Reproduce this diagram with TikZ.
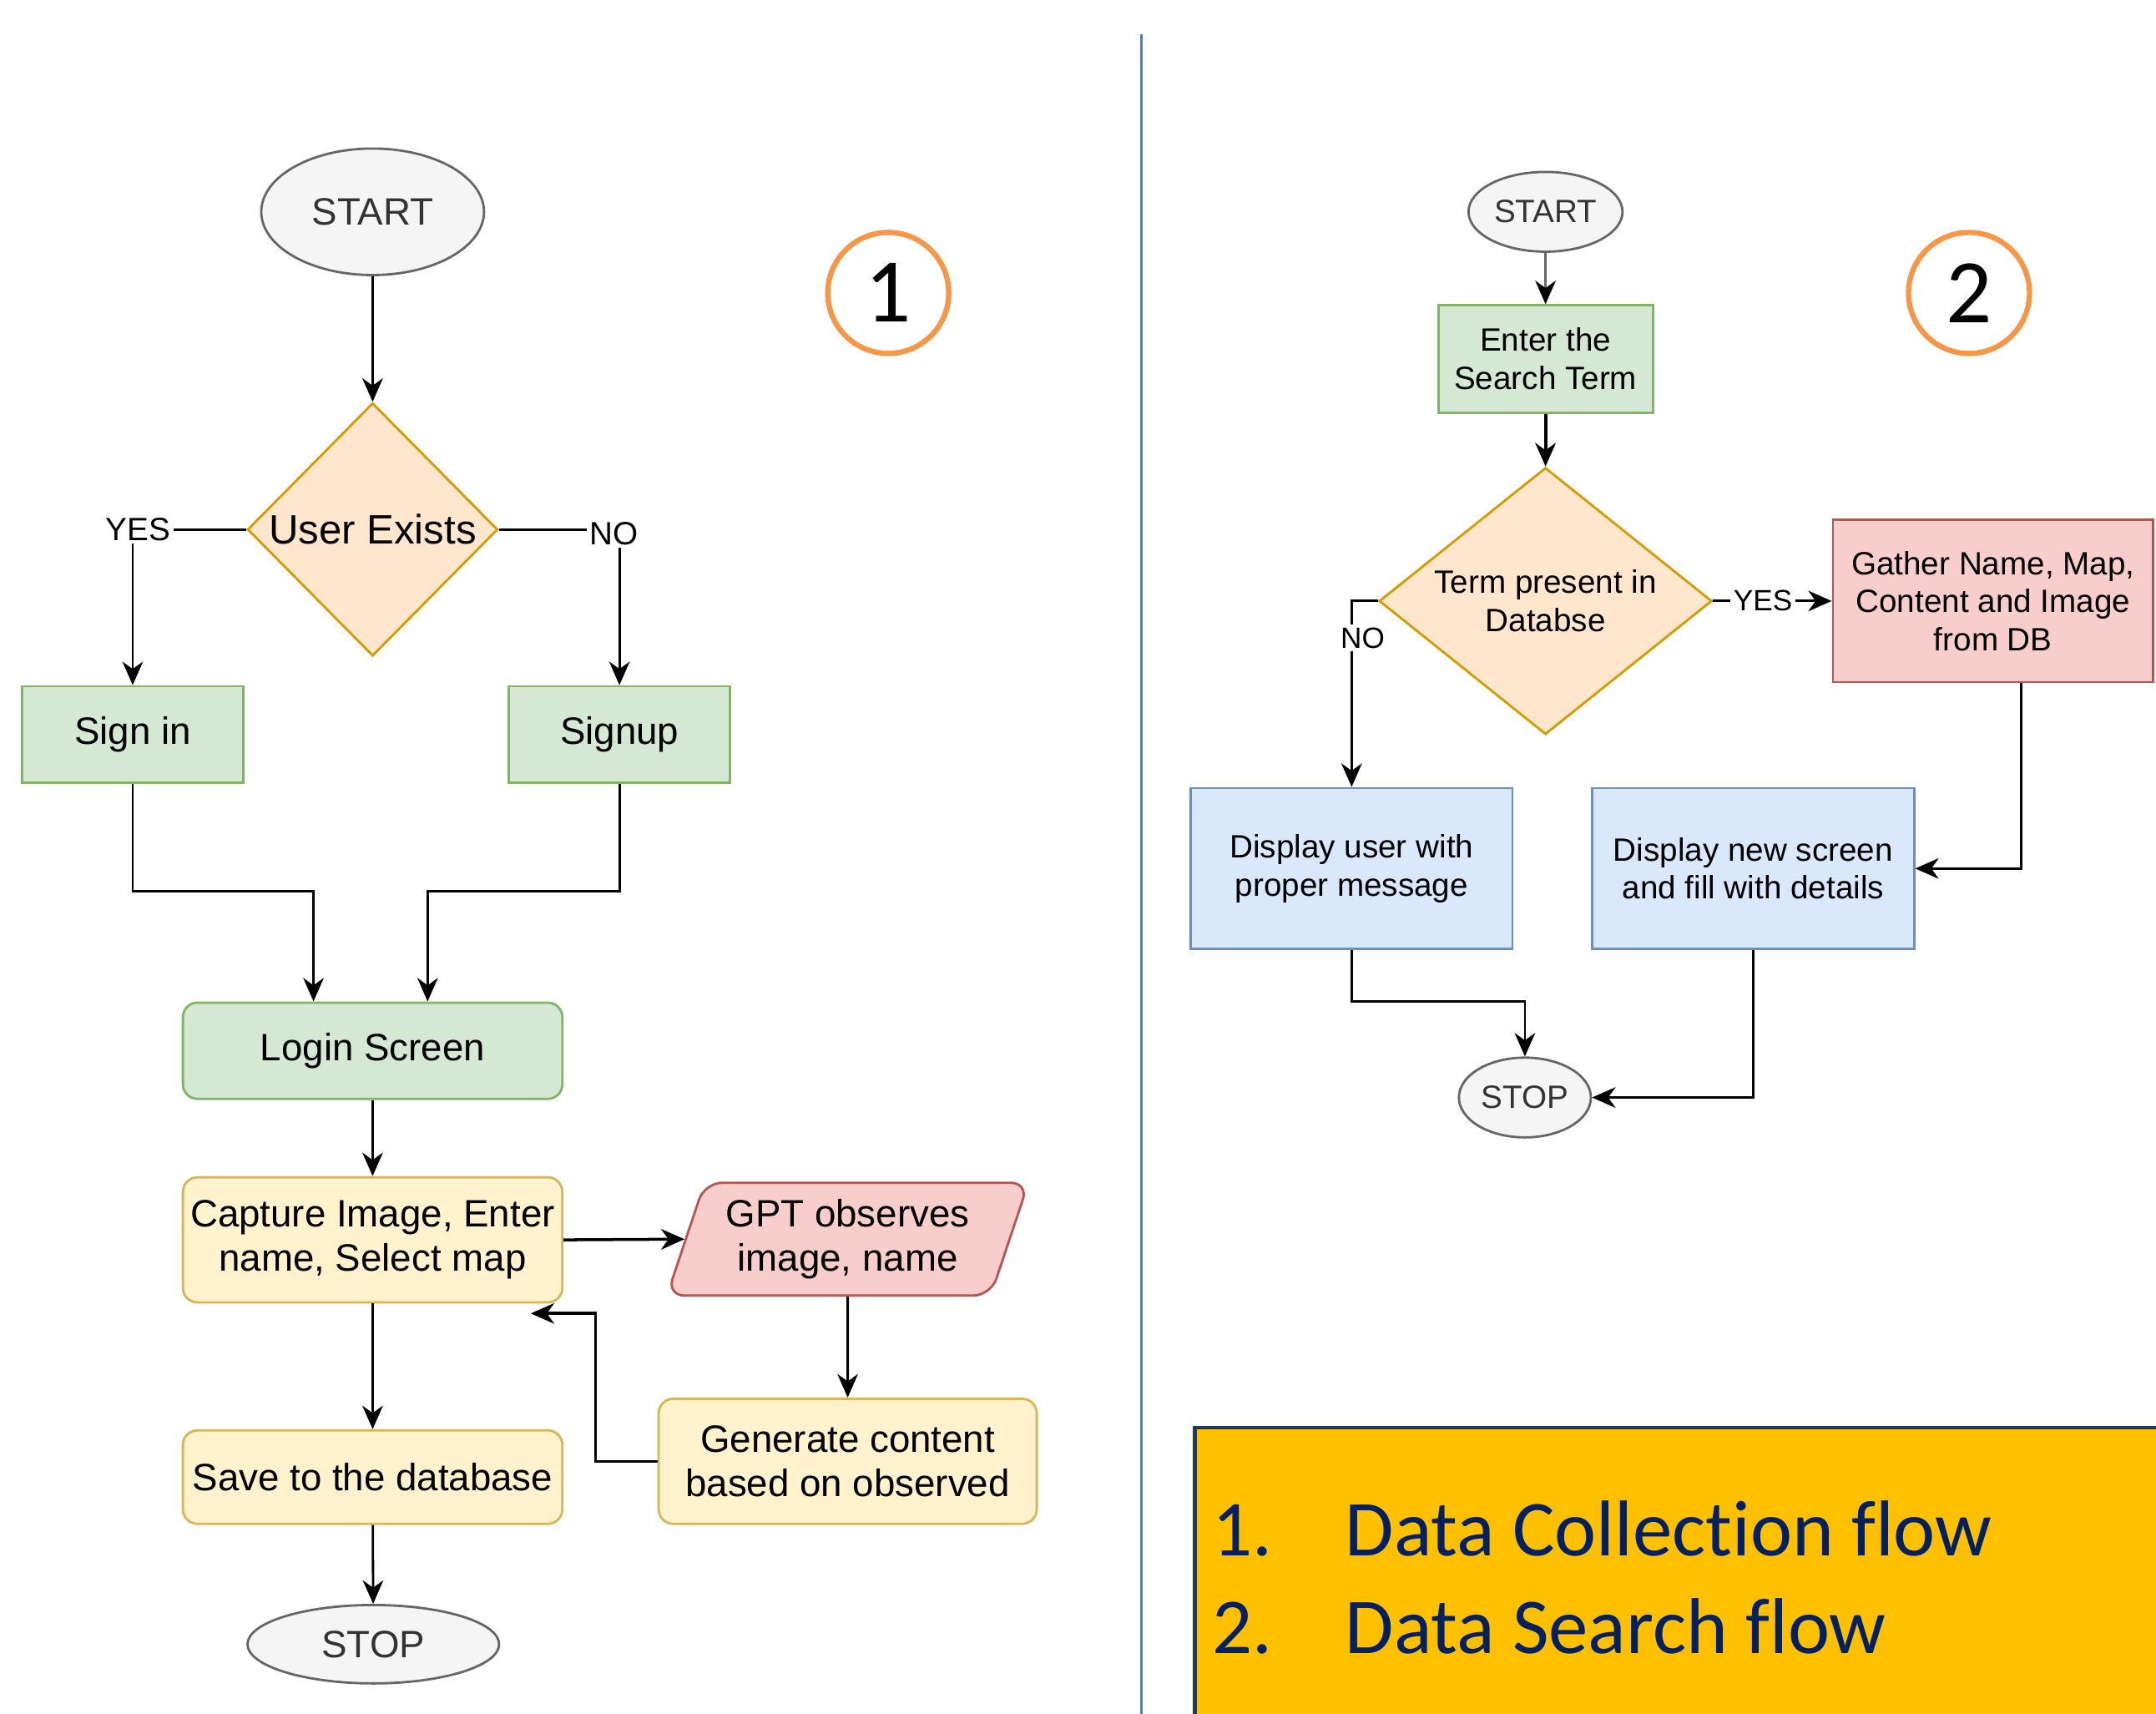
\documentclass[tikz,border=0pt]{standalone}
\usepackage{fontspec}
\setmainfont{Liberation Sans}
\newfontfamily\calfont[Ligatures=NoCommon]{Carlito}
\usetikzlibrary{shapes.geometric,arrows.meta,calc}
\newcommand\pxu{0.016474cm}
\definecolor{grnF}{HTML}{D5E8D4}\definecolor{grnD}{HTML}{82B366}
\definecolor{orgF}{HTML}{FFE6CC}\definecolor{orgD}{HTML}{D79B00}
\definecolor{ylwF}{HTML}{FFF2CC}\definecolor{ylwD}{HTML}{D6B656}
\definecolor{redF}{HTML}{F8CECC}\definecolor{redD}{HTML}{B85450}
\definecolor{bluF}{HTML}{DAE8FC}\definecolor{bluD}{HTML}{6C8EBF}
\definecolor{gryF}{HTML}{F5F5F5}\definecolor{gryD}{HTML}{666666}
\definecolor{gryT}{HTML}{333333}
\definecolor{ringC}{HTML}{F79646}
\definecolor{divC}{HTML}{4A7EBB}
\definecolor{legF}{HTML}{FFC000}\definecolor{legD}{HTML}{203864}
\definecolor{legT}{HTML}{002060}
\tikzset{
  wh/.style 2 args={minimum width=#1*\pxu, minimum height=#2*\pxu},
  base/.style={align=center, line width=0.8pt, inner sep=0pt, text=black,
    font=\fontsize{13}{15}\selectfont},
  small/.style={font=\fontsize{11}{13}\selectfont},
  term/.style={base, ellipse, fill=gryF, draw=gryD, text=gryT},
  dec/.style={base, diamond, shape aspect=1.25, fill=orgF, draw=orgD},
  grn/.style={base, rectangle, fill=grnF, draw=grnD},
  ylw/.style={base, rectangle, rounded corners=5pt, fill=ylwF, draw=ylwD},
  redbox/.style={base, rectangle, fill=redF, draw=redD},
  blu/.style={base, rectangle, fill=bluF, draw=bluD},
  gptbox/.style={base, trapezium, trapezium left angle=68, trapezium right angle=112,
    trapezium stretches=true, rounded corners=6pt, fill=redF, draw=redD},
  arr/.style={line width=0.8pt, -{Stealth[length=8pt,width=7pt,inset=2.5pt]}},
  lbl/.style={fill=white, inner sep=1pt, font=\fontsize{11}{13}\selectfont},
  lbls/.style={fill=white, inner sep=1pt, font=\fontsize{10}{12}\selectfont},
  ring/.style={circle, draw=ringC, line width=1.8pt, minimum size=88*\pxu,
    inner sep=0pt, font=\calfont\fontsize{31}{31}\selectfont},
  legtext/.style={anchor=base west, inner sep=0pt, text=legT,
    font=\calfont\fontsize{27}{27}\selectfont}
}
\begin{document}
\begin{tikzpicture}[x=0.016474cm, y=-0.016474cm]
\useasboundingbox (0,0) rectangle (1568,1246);
\clip (0,0) rectangle (1568,1246);

% divider
\draw[divC, line width=0.7pt] (830,25) -- (830,1250);

% ---------- flow 1 ----------
\node[term, wh={162}{92}] (s1) at (271,154) {START};
\node[dec, wh={182}{184}, font=\fontsize{14}{16}\selectfont] (d1) at (271,385) {User Exists};
\node[grn, wh={161}{70}] (signin) at (96.5,534) {Sign in};
\node[grn, wh={161}{70}] (signup) at (450.5,534) {Signup};
\node[grn, rounded corners=5pt, wh={276}{70}] (login) at (271,764) {Login Screen};
\node[ylw, wh={276}{91}] (capture) at (271,901.5) {Capture Image, Enter\\name, Select map};
\node[gptbox, wh={263}{82}] (gpt) at (616.5,901) {GPT observes\\image, name};
\node[ylw, wh={275}{91}] (gen) at (616.5,1062.5) {Generate content\\based on observed};
\node[ylw, wh={276}{68}] (save) at (271,1074) {Save to the database};
\node[term, wh={183}{57}] (e1) at (271.5,1195.5) {STOP};
\coordinate (capret) at (386,955);

\node[ring] (c1) at (646,213) {1};

\draw[arr] (s1) -- (d1);
\draw[arr] (d1.west) -| node[lbl, xshift=4*\pxu]{YES} (signin.north);
\draw[arr] (d1.east) -| node[lbl, xshift=-4*\pxu, yshift=-3*\pxu]{NO} (signup.north);
\draw[arr] (signin.south) |- ($(login.north)+(-43,-80)$) -- ($(login.north)+(-43,0)$);
\draw[arr] (signup.south) |- ($(login.north)+(40,-80)$) -- ($(login.north)+(40,0)$);
\draw[arr] (login) -- (capture);
\draw[arr, line width=1pt] (capture.east) -- (gpt.west);
\draw[arr] (gpt.south) -- (gen.north);
\draw[arr, line width=1pt] (gen.west) -| ($(capret)+(47,0)$) -- (capret);
\draw[arr] (capture) -- (save);
\draw[arr] (save) -- (e1);

% ---------- flow 2 ----------
\node[term, small, wh={112}{58}] (s2) at (1124,154) {START};
\node[grn, small, wh={156}{78}] (enter) at (1124,261) {Enter the\\Search Term};
\node[dec, small, wh={242}{194}] (d2) at (1124,437) {Term present in\\Databse};
\node[redbox, small, wh={233}{118}] (gather) at (1449.5,437) {Gather Name, Map,\\Content and Image\\from DB};
\node[blu, small, wh={234}{117}] (dispu) at (983,631.5) {Display user with\\proper message};
\node[blu, small, wh={234}{117}] (dispn) at (1275,631.5) {Display new screen\\and fill with details};
\node[term, small, wh={96}{58}] (e2) at (1109,798) {STOP};

\node[ring] (c2) at (1432,213) {2};

\draw[line width=0.8pt, draw=gryD, -{Stealth[length=8pt,width=7pt,inset=2.5pt,color=black]}] (s2) -- (enter);
\draw[arr, line width=1.2pt] (enter) -- (d2);
\draw[arr] (d2.east) -- node[lbls, pos=0.42]{YES} (gather.west);
\draw[arr] (d2.west) -| node[lbls, pos=0.6, xshift=8*\pxu]{NO} (dispu.north);
\draw[arr] ($(gather.south)+(20.5,0)$) |- (dispn.east);
\draw[arr] (dispu.south) |- ($(e2.north)+(0,-40)$) -- (e2.north);
\draw[arr] (dispn.south) |- (e2.east);

% ---------- legend ----------
\draw[fill=legF, draw=legD, line width=1.3pt] (869,1038) rectangle (1620,1300);
\node[legtext] (l1n) at (881,1131.5) {1.};
\node[legtext] (l1t) at (978,1131.5) {Data Collection flow};
\node[legtext] (l2n) at (881,1202.5) {2.};
\node[legtext] (l2t) at (978,1202.5) {Data Search flow};
\end{tikzpicture}
\end{document}
